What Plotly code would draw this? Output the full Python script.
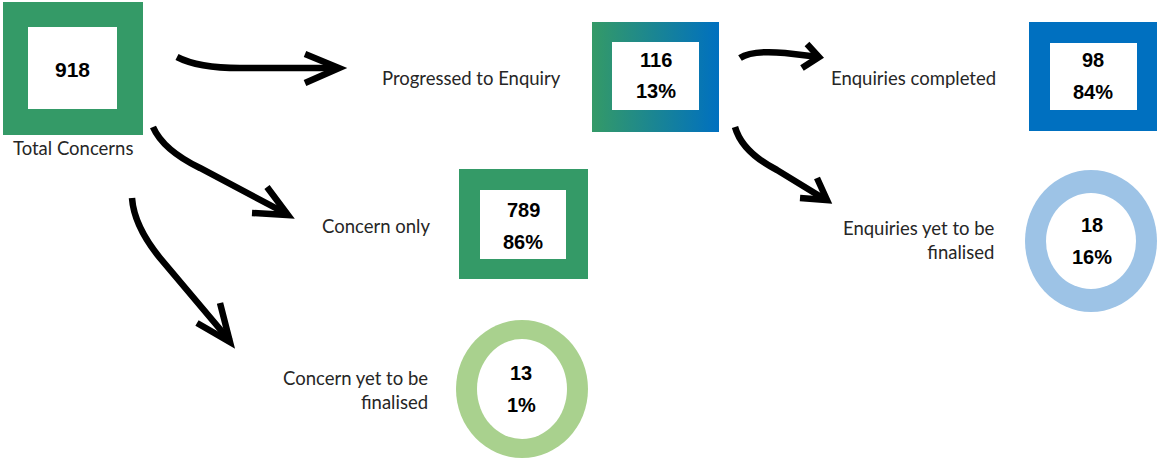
import plotly.graph_objects as go

# ---- data ----
node_names = ["Total Concerns", "Progressed to Enquiry", "Concern only",
              "Concern yet to be<br>finalised", "Enquiries completed",
              "Enquiries yet to be<br>finalised"]
node_counts = [918, 116, 789, 13, 98, 18]
node_pcts = [None, "13%", "86%", "1%", "84%", "16%"]

# ---- layout (pixel canvas, y downward) ----
W, H = 1158, 460
GREEN = "#349A67"
BLUE = "#0070C0"
LIGHTBLUE = "#9DC3E6"
LIGHTGREEN = "#A9D18E"
TXT = "#262626"

fig = go.Figure()
shapes = []
annotations = []

def rect_frame(x0, y0, x1, y1, ix0, iy0, ix1, iy1, color):
    shapes.append(dict(type="rect", x0=x0, y0=y0, x1=x1, y1=y1, fillcolor=color,
                       line=dict(width=0), layer="below"))
    shapes.append(dict(type="rect", x0=ix0, y0=iy0, x1=ix1, y1=iy1, fillcolor="white",
                       line=dict(width=0), layer="above"))

def ring(cx, cy, rx, ry, irx, iry, color):
    shapes.append(dict(type="circle", x0=cx - rx, y0=cy - ry, x1=cx + rx, y1=cy + ry,
                       fillcolor=color, line=dict(width=0), layer="below"))
    shapes.append(dict(type="circle", x0=cx - irx, y0=cy - iry, x1=cx + irx, y1=cy + iry,
                       fillcolor="white", line=dict(width=0), layer="above"))

# boxes / rings
rect_frame(3, 2, 143, 135, 28, 27, 117, 109, GREEN)                  # 918
fig.add_trace(go.Scatter(x=[592, 719, 719, 592, 592], y=[22, 22, 132, 132, 22],
                         mode="lines", line=dict(width=0), fill="toself",
                         fillgradient=dict(type="horizontal",
                                           colorscale=[[0, GREEN], [1, BLUE]]),
                         hoverinfo="skip", showlegend=False))
shapes.append(dict(type="rect", x0=612, y0=42, x1=699, y1=110, fillcolor="white",
                   line=dict(width=0), layer="above"))
rect_frame(459, 169, 588, 279, 480, 190, 566, 259, GREEN)            # 789
rect_frame(1029, 22, 1157, 131, 1050, 43, 1137, 110, BLUE)           # 98
ring(522, 389, 66, 69, 45, 50, LIGHTGREEN)                           # 13
ring(1091, 241, 66, 71, 45, 48, LIGHTBLUE)                           # 18

# value labels inside boxes
value_pos = [(72, 69, None), (656, 60, 91), (523, 210, 242), (521, 373, 405),
             (1093, 60, 92), (1092, 225, 257)]
for i, (x, y1, y2) in enumerate(value_pos):
    fs = 21 if i == 0 else 20
    f = dict(family="Liberation Sans", size=fs, color="black")
    annotations.append(dict(x=x, y=y1, text=f"<b>{node_counts[i]}</b>", showarrow=False,
                            font=f, xanchor="center", yanchor="middle"))
    if node_pcts[i] is not None:
        annotations.append(dict(x=x, y=y2, text=f"<b>{node_pcts[i]}</b>", showarrow=False,
                                font=f, xanchor="center", yanchor="middle"))

# name labels
name_pos = [(73, 148, "center"), (563, 78, "right"), (432, 226, "right"),
            (430, 390, "right"), (998, 78, "right"), (997, 240, "right")]
for i, (x, y, anc) in enumerate(name_pos):
    annotations.append(dict(x=x, y=y, text=node_names[i], showarrow=False,
                            font=dict(family="Lato", size=18.5, color=TXT),
                            xanchor=anc, yanchor="middle", align=anc))

# hand-drawn arrows (SVG paths in data coordinates)
arrow_paths = [
    ("M177,57 Q198,68 240,68 L338,68", "M305,54 L339,68 L305,83"),
    ("M153,127 Q163,150 200,168 L287,214", "M267,187 L288,215 L252,213"),
    ("M132,198 Q134,226 160,258 L230,341", "M220,303 L230,342 L197,323"),
    ("M740,58 Q752,50 785,53 L819,57", "M807,44 L819,57 L802,68"),
    ("M735,127 Q742,152 777,170 L826,200", "M817,178 L827,200 L800,198"),
]
for body, head in arrow_paths:
    for p in (body, head):
        shapes.append(dict(type="path", path=p, xref="x", yref="y",
                           line=dict(color="black", width=6.5), layer="above"))

fig.update_layout(
    width=W, height=H, margin=dict(l=0, r=0, t=0, b=0),
    paper_bgcolor="white", plot_bgcolor="white",
    xaxis=dict(range=[0, W], visible=False, fixedrange=True),
    yaxis=dict(range=[H, 0], visible=False, fixedrange=True),
    shapes=shapes, annotations=annotations, showlegend=False,
)
fig.write_html("out.html", config={"displayModeBar": False, "staticPlot": True},
               post_script="document.body.style.margin='0';")
